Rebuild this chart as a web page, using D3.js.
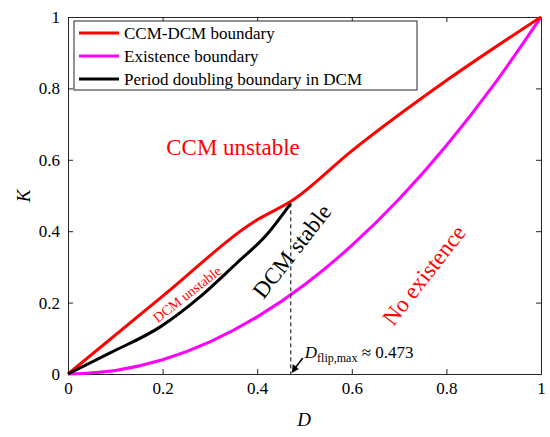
<!DOCTYPE html>
<html><head><meta charset="utf-8">
<script src="https://cdn.jsdelivr.net/npm/d3@7"></script>
<style>body{margin:0;background:#fff}svg text{font-family:"Liberation Serif","DejaVu Serif","Times New Roman",serif}</style>
</head><body><svg id="c" width="550" height="437"></svg>
<script>
const xTicks=[0,0.2,0.4,0.6,0.8,1];
const yTicks=[0,0.2,0.4,0.6,0.8,1];
const ccmDcmD=[0,0.2,0.4,0.473,0.6,0.8,1];
const ccmDcmK=[0,0.218,0.432,0.485,0.625,0.822,1];
const existD=[0,0.1,0.2,0.3,0.4,0.5,0.6,0.7,0.8,0.9,1];
const existK=[0,0.01,0.04,0.09,0.16,0.25,0.36,0.49,0.64,0.81,1];
const pdD=[0,0.089,0.195,0.279,0.357,0.42,0.471];
const pdK=[0,0.059,0.132,0.216,0.311,0.39,0.478];
const dFlip=0.471, kFlip=0.478;

const svg=d3.select("#c");
const SERIF='"Liberation Serif","DejaVu Serif",serif';
const x=d3.scaleLinear().domain([0,1]).range([68,541]);
const y=d3.scaleLinear().domain([0,1]).range([374,17]);
const g=svg.append("g");
g.append("g").attr("transform","translate(0,374)").call(d3.axisBottom(x).tickValues(xTicks).tickFormat(d3.format("~g")).tickSize(-5).tickPadding(8));
g.append("g").attr("transform","translate(68,0)").call(d3.axisLeft(y).tickValues(yTicks).tickFormat(d3.format("~g")).tickSize(-5).tickPadding(8));
g.append("g").attr("transform","translate(0,17)").call(d3.axisTop(x).tickValues(xTicks).tickFormat("").tickSize(-5));
g.append("g").attr("transform","translate(541,0)").call(d3.axisRight(y).tickValues(yTicks).tickFormat("").tickSize(-5));
g.selectAll(".domain,.tick line").attr("stroke","#262626");
g.selectAll(".tick text").attr("font-size",17).attr("fill","#000").attr("font-family",SERIF);

const line=d3.line().x(d=>x(d[0])).y(d=>y(d[1])).curve(d3.curveMonotoneX);
const draw=(D,K,c)=>svg.append("path").attr("d",line(D.map((v,i)=>[v,K[i]]))).attr("fill","none").attr("stroke",c).attr("stroke-width",3);
draw(existD,existK,"#ff00ff");
draw(ccmDcmD,ccmDcmK,"#ff0000");
draw(pdD,pdK,"#000");

svg.append("line").attr("x1",x(dFlip)).attr("x2",x(dFlip)).attr("y1",y(kFlip)).attr("y2",y(0)).attr("stroke","#000").attr("stroke-dasharray","4,3");
svg.append("line").attr("x1",x(dFlip)+12).attr("y1",y(0)-16).attr("x2",x(dFlip)+2).attr("y2",y(0)-3).attr("stroke","#000").attr("stroke-width",1.5);
svg.append("path").attr("d",`M${x(dFlip)+1},${y(0)-1} l1,-9 l6,5 z`).attr("fill","#000");
const ann=svg.append("text").attr("x",x(dFlip)+14).attr("y",y(0)-16).attr("font-size",17).attr("font-family",SERIF);
ann.append("tspan").attr("font-style","italic").text("D");
ann.append("tspan").attr("font-size",12).attr("dy",4).text("flip,max");
ann.append("tspan").attr("dy",-4).text(" ≈ 0.473");

const T=(tr,txt,size,fill)=>svg.append("text").attr("transform",tr).attr("text-anchor","middle").attr("font-size",size).attr("fill",fill).attr("font-family",SERIF).text(txt);
T("translate(233,155)","CCM unstable",23,"#ff0000");
T("translate(298,256) rotate(-52)","DCM stable",23,"#000");
T("translate(430,280) rotate(-52)","No existence",23,"#ff0000");
T("translate(190,298) rotate(-38)","DCM unstable",14,"#ff0000");

svg.append("text").attr("transform","translate(30,196) rotate(-90)").attr("text-anchor","middle").attr("font-size",19).attr("font-style","italic").attr("font-family",SERIF).text("K");
svg.append("text").attr("x",304).attr("y",426).attr("text-anchor","middle").attr("font-size",19).attr("font-style","italic").attr("font-family",SERIF).text("D");

const leg=[["CCM-DCM boundary","#ff0000"],["Existence boundary","#ff00ff"],["Period doubling boundary in DCM","#000"]];
svg.append("rect").attr("x",74).attr("y",21).attr("width",343).attr("height",69).attr("fill","#fff").attr("stroke","#262626");
leg.forEach((l,i)=>{
  const yy=33+i*23;
  svg.append("line").attr("x1",79).attr("x2",119).attr("y1",yy).attr("y2",yy).attr("stroke",l[1]).attr("stroke-width",3);
  svg.append("text").attr("x",124).attr("y",yy+6).attr("font-size",17).attr("font-family",SERIF).text(l[0]);
});
</script></body></html>
